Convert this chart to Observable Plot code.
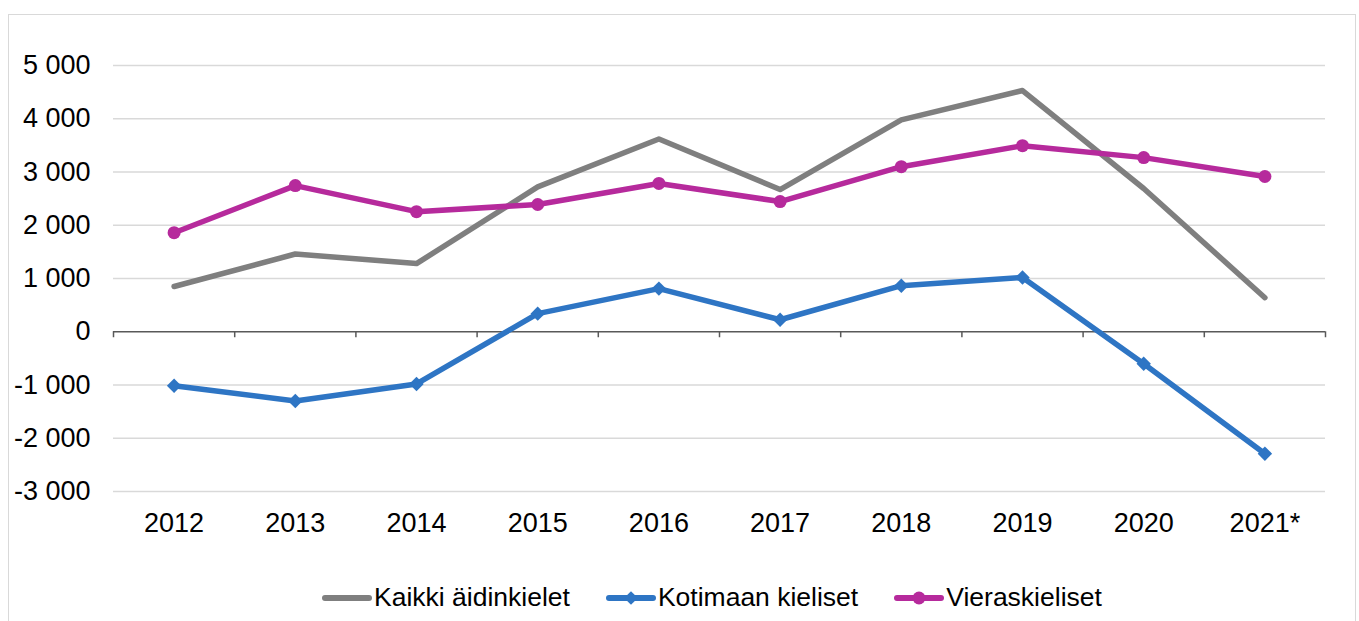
<!DOCTYPE html>
<html>
<head>
<meta charset="utf-8">
<script src="https://cdn.jsdelivr.net/npm/d3@7"></script>
<script src="https://cdn.jsdelivr.net/npm/@observablehq/plot@0.6"></script>
<style>
  html, body { margin: 0; padding: 0; background: #fff; width: 1359px; height: 621px; overflow: hidden; }
  body { position: relative; font-family: "Liberation Sans", Arial, sans-serif; }
  #frame { position: absolute; left: 8px; top: 14px; width: 1348px; height: 640px; border: 1px solid #d9d9d9; box-sizing: border-box; }
  #chart { position: absolute; left: 0; top: 0; }
  #legend { position: absolute; left: 322px; top: 582px; display: flex; align-items: center; font-size: 26.5px; color: #000; }
  .item { display: flex; align-items: center; margin-right: 36px; }
  .item svg { margin-right: 2px; }
</style>
</head>
<body>
<div id="frame"></div>
<div id="chart"></div>
<div id="legend"></div>
<script>
const years = ["2012", "2013", "2014", "2015", "2016", "2017", "2018", "2019", "2020", "2021*"];
const seriesNames = ["Kaikki äidinkielet", "Kotimaan kieliset", "Vieraskieliset"];
const kaikki = [850, 1460, 1280, 2720, 3620, 2670, 3980, 4530, 2690, 640];
const kotimaan = [-1015, -1300, -980, 340, 810, 225, 865, 1020, -600, -2290];
const vieras = [1860, 2745, 2255, 2390, 2785, 2445, 3100, 3495, 3270, 2915];
const yTicks = [-3000, -2000, -1000, 0, 1000, 2000, 3000, 4000, 5000];
const colors = ["#7f7f7f", "#2e75c4", "#b62a9c"];

const values = [kaikki, kotimaan, vieras];
const data = [];
values.forEach((arr, s) => arr.forEach((v, i) => data.push({series: seriesNames[s], i, year: years[i], value: v})));

const fmt = d3.formatLocale({thousands: "\u00a0", grouping: [3], decimal: ",", minus: "-"}).format(",");
const boundaries = d3.range(years.length + 1);
const centers = years.map((_, i) => i + 0.5);

const chart = Plot.plot({
  width: 1359,
  height: 540,
  marginLeft: 113,
  marginRight: 34,
  marginTop: 65,
  marginBottom: 49,
  style: {fontFamily: '"Liberation Sans", Arial, sans-serif', fontSize: "27px", color: "#000", background: "transparent", overflow: "visible"},
  x: {type: "linear", domain: [0, years.length], ticks: centers, tickFormat: (v) => years[Math.floor(v)], tickSize: 0, tickPadding: 21, label: null},
  y: {domain: [-3000, 5000], ticks: yTicks, tickFormat: fmt, tickSize: 0, tickPadding: 23, label: null},
  color: {domain: seriesNames, range: colors},
  marks: [
    Plot.ruleY(yTicks.filter((v) => v !== 0), {stroke: "#d9d9d9", strokeWidth: 1.3}),
    Plot.ruleY([0], {stroke: "#595959", strokeWidth: 1.5}),
    Plot.ruleX(boundaries, {x: (d) => d, y1: 0, y2: 0, insetBottom: -6, stroke: "#595959", strokeWidth: 1.5}),
    Plot.line(data, {x: (d) => d.i + 0.5, y: "value", z: "series", stroke: "series", strokeWidth: 5.5, strokeLinejoin: "round", strokeLinecap: "round"}),
    Plot.dot(data.filter((d) => d.series === seriesNames[1]), {x: (d) => d.i + 0.5, y: "value", symbol: "diamond2", r: 6.5, fill: colors[1], stroke: null}),
    Plot.dot(data.filter((d) => d.series === seriesNames[2]), {x: (d) => d.i + 0.5, y: "value", r: 6.5, fill: colors[2], stroke: null})
  ]
});
document.getElementById("chart").appendChild(chart);

// Legend
const legend = d3.select("#legend");
seriesNames.forEach((name, s) => {
  const item = legend.append("div").attr("class", "item");
  const svg = item.append("svg").attr("width", 50).attr("height", 16);
  svg.append("line").attr("x1", 3).attr("x2", 47).attr("y1", 8).attr("y2", 8)
    .attr("stroke", colors[s]).attr("stroke-width", 6).attr("stroke-linecap", "round");
  if (s === 1) {
    svg.append("path").attr("d", d3.symbol(d3.symbolDiamond2, 120)()).attr("transform", "translate(25,8)").attr("fill", colors[s]);
  } else if (s === 2) {
    svg.append("circle").attr("cx", 25).attr("cy", 8).attr("r", 6.5).attr("fill", colors[s]);
  }
  item.append("span").text(name);
});
</script>
</body>
</html>
